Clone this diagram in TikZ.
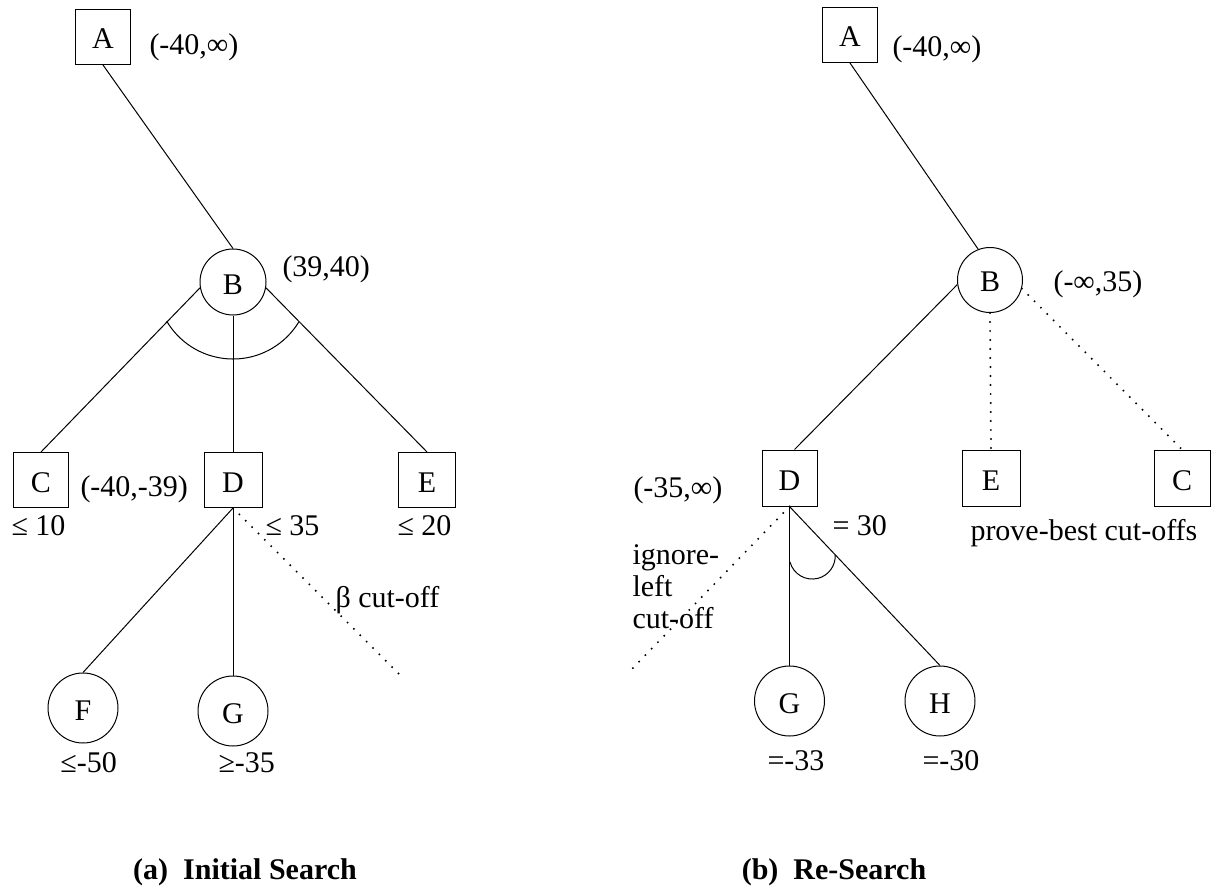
\documentclass[tikz,border=0pt]{standalone}
\usepackage{fontspec}
\setmainfont{Liberation Serif}
\usetikzlibrary{shapes.geometric}
\begin{document}
\begin{tikzpicture}[x=0.5pt,y=-0.5pt,line width=0.5pt,
  every node/.style={font=\fontsize{15}{16}\selectfont},
  sq/.style={draw, rectangle, inner sep=0pt, minimum width=27.5pt, minimum height=27.5pt, text height=12pt, text depth=0pt},
  circ/.style={draw, ellipse, inner sep=0pt, text height=12pt, text depth=0pt},
  lbl/.style={inner sep=0pt, anchor=base west},
  captext/.style={inner sep=0pt, anchor=base, font=\fontsize{15}{16}\selectfont\bfseries},
  dots/.style={line width=1.1pt, line cap=round, dash pattern=on 0pt off 4.5pt}
]
\useasboundingbox (0,0) rectangle (1211,888);

% ---------- (a) Initial Search ----------
\node[sq] (A1) at (103,37) {A};
\node[circ, minimum width=33pt, minimum height=33pt] (B1) at (233,282) {B};
\node[sq] (C1) at (41,480) {C};
\node[sq, minimum width=29pt] (D1) at (233,480) {D};
\node[sq, minimum width=28.5pt] (E1) at (427,480) {E};
\node[circ, minimum width=35pt, minimum height=35pt] (F1) at (83,708) {F};
\node[circ, minimum width=35pt, minimum height=35pt] (G1) at (233,711) {G};
\coordinate (bcut) at (400,675);

\draw (A1.south) -- (B1.north);
\draw (B1.190) -- (C1.north);
\draw (B1.south) -- (D1.north);
\draw (B1.350) -- (E1.north);
\draw (B1.center) ++(210.6:38.5pt) arc[start angle=210.6, end angle=328.8, radius=38.5pt];
\draw (D1.south) -- (F1.north);
\draw (D1.south) -- (G1.north);
\draw[dots] (D1.south) -- (bcut);

\node[lbl] at (149,55) {(-40,∞)};
\node[lbl] at (282,276) {(39,40)};
\node[lbl] at (80,496) {(-40,-39)};
\node[lbl] at (11,535) {≤ 10};
\node[lbl] at (265,535) {≤ 35};
\node[lbl] at (397,535) {≤ 20};
\node[lbl] at (335,607) {β cut-off};
\node[lbl] at (60,772) {≤-50};
\node[lbl] at (218,772) {≥-35};
\node[captext] at (245,879) {(a)\ \ Initial Search};

% ---------- (b) Re-Search ----------
\node[sq] (A2) at (850,35) {A};
\node[circ, minimum width=32.5pt, minimum height=32.5pt] (B2) at (990,280) {B};
\node[sq, minimum height=28pt] (D2) at (789.5,478) {D};
\node[sq, minimum width=29pt, minimum height=28pt] (E2) at (991,478) {E};
\node[sq, minimum width=28pt, minimum height=28pt] (C2) at (1182,478) {C};
\node[circ, minimum width=35pt, minimum height=35pt] (G2) at (789.5,701) {G};
\node[circ, minimum width=35pt, minimum height=35pt] (H2) at (940,701) {H};
\coordinate (icut) at (630,671);

\draw (A2.south) -- (B2.111);
\draw (B2.188) -- (D2.80);
\draw[dots] (B2.south) -- (E2.north);
\draw[dots] (B2.345) -- (C2.north);
\draw (D2.south) -- (G2.north);
\draw (D2.south) -- (H2.north);
\draw (790,562) arc[start angle=195, end angle=362.4, radius=11.5pt];
\draw[dots] (D2.south) -- (icut);

\node[lbl] at (892,57) {(-40,∞)};
\node[lbl] at (1053,292) {(-∞,35)};
\node[lbl] at (633,497) {(-35,∞)};
\node[lbl] at (832,535) {= 30};
\node[lbl] at (970,540) {prove-best cut-offs};
\node[lbl, align=left] at (632,628) {ignore-\\left\\cut-off};
\node[lbl] at (767,770) {=-33};
\node[lbl] at (922,770) {=-30};
\node[captext] at (834,879) {(b)\ \ Re-Search};
\end{tikzpicture}
\end{document}
